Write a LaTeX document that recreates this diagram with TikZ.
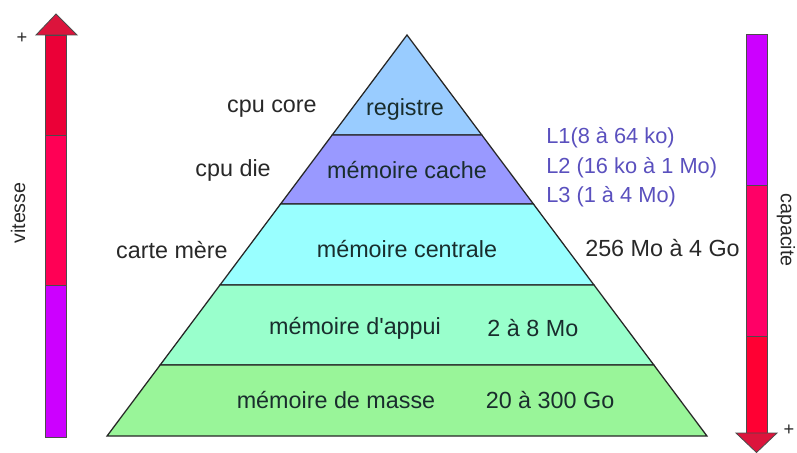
\documentclass[tikz,border=0pt]{standalone}
\usepackage{fontspec}
\setmainfont{Liberation Sans}
\usepackage{xcolor}
\usetikzlibrary{positioning}

\definecolor{regc}{RGB}{153,204,255}
\definecolor{cachec}{RGB}{153,153,255}
\definecolor{centc}{RGB}{153,255,255}
\definecolor{appc}{RGB}{153,255,204}
\definecolor{massc}{RGB}{153,245,153}
\definecolor{redA}{RGB}{235,0,55}
\definecolor{pinkA}{RGB}{255,0,85}
\definecolor{purpA}{RGB}{204,0,255}
\definecolor{pinkB}{RGB}{255,0,102}
\definecolor{redB}{RGB}{255,0,51}
\definecolor{headc}{RGB}{220,20,60}
\definecolor{intxt}{RGB}{25,45,45}
\definecolor{outtxt}{RGB}{40,40,40}
\definecolor{ltxt}{RGB}{90,80,190}

\begin{document}
\begin{tikzpicture}[
  x=0.025cm, y=-0.025cm,
  every node/.style={font=\fontsize{16.6}{20}\selectfont, inner sep=0pt},
  layer/.style={draw=black!85, line width=0.9pt},
  bar/.style={draw=black!70, line width=0.6pt},
  lvl/.style={text=intxt},
  where/.style={text=outtxt},
  cachelbl/.style={font=\fontsize{15.5}{19}\selectfont, text=ltxt, anchor=west},
  axislbl/.style={font=\fontsize{14}{17}\selectfont, text=outtxt},
  sign/.style={font=\fontsize{13}{15}\selectfont, text=outtxt}
]
  \useasboundingbox (0,0) rectangle (797,453);

  \foreach \ya/\yb/\col in {35/135/regc, 135/204/cachec, 204/285/centc, 285/365/appc, 365/436/massc}
    \draw[layer, fill=\col] ({407-0.748*(\ya-35)},\ya) -- ({407+0.748*(\ya-35)},\ya)
      -- ({407+0.748*(\yb-35)},\yb) -- ({407-0.748*(\yb-35)},\yb) -- cycle;

  \node[lvl] (reg) at (405,109) {registre};
  \node[lvl] (cache) at (407,170) {mémoire cache};
  \node[lvl] (cent) at (407,249) {mémoire centrale};
  \node[lvl] (app) at (355,328) {mémoire d\textquotesingle appui};
  \node[lvl, right=1.15cm of app] (appsz) {2 à 8 Mo};
  \node[lvl] (mass) at (336,400) {mémoire de masse};
  \node[lvl, right=1.25cm of mass] (masssz) {20 à 300 Go};

  \node[where, anchor=east] (core) at (317,109) {cpu core};
  \node[where, anchor=east] (die) at (271,170) {cpu die};
  \node[where, anchor=east] (carte) at (228,250) {carte mère};
  \node[where, anchor=west] (centsz) at (585,248) {256 Mo à 4 Go};

  \node[cachelbl] (lone) at (546,138) {L1(8 à 64 ko)};
  \node[cachelbl] (ltwo) at (546,168) {L2 (16 ko à 1 Mo)};
  \node[cachelbl] (lthree) at (546,197) {L3 (1 à 4 Mo)};

  \foreach \ya/\yb/\col in {35/135/redA, 135/285/pinkA, 285/437/purpA}
    \draw[bar, fill=\col] (45,\ya) rectangle (66,\yb);
  \draw[bar, fill=headc] (36,35) -- (56,14) -- (77,35) -- cycle;
  \node[axislbl, rotate=90] (vit) at (18,213) {vitesse};
  \node[sign] (vplus) at (22,38) {+};

  \foreach \ya/\yb/\col in {34/185/purpA, 185/336/pinkB, 336/433/redB}
    \draw[bar, fill=\col] (746,\ya) rectangle (767,\yb);
  \draw[bar, fill=headc] (736,433) -- (756.5,452.5) -- (777,433) -- cycle;
  \node[axislbl, rotate=-90] (cap) at (786,230) {capacite};
  \node[sign] (cplus) at (789,430) {+};
\end{tikzpicture}
\end{document}
